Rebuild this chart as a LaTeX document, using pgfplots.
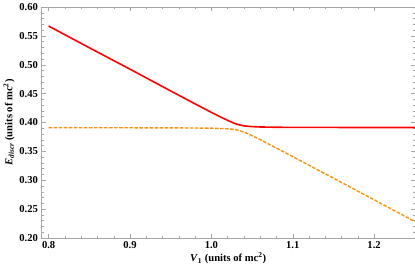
\documentclass[border=0pt]{standalone}
\usepackage{pgfplots}
\pgfplotsset{compat=1.18}
\usepackage{fontspec}
\setmainfont{Liberation Serif}
\definecolor{myred}{RGB}{250,5,5}
\definecolor{myorange}{RGB}{255,145,15}
\begin{document}
\begin{tikzpicture}
\begin{axis}[
  scale only axis,
  width=370pt, height=229pt,
  xmin=0.7913, xmax=1.25,
  ymin=0.2, ymax=0.6,
  xtick={0.8,0.9,1.0,1.1,1.2},
  xticklabels={0.8,0.9,1.0,1.1,1.2},
  ytick={0.20,0.25,0.30,0.35,0.40,0.45,0.50,0.55,0.60},
  yticklabels={0.20,0.25,0.30,0.35,0.40,0.45,0.50,0.55,0.60},
  minor x tick num=4,
  minor y tick num=4,
  tick align=inside,
  major tick length=4pt,
  minor tick length=2pt,
  axis line style={gray!70},
  tick style={gray!70, line width=0.4pt},
  ticklabel style={font=\fontsize{10.5}{12}\selectfont\bfseries},
  xlabel={\textbf{\textit{V}\textsubscript{1} (units of mc\textsuperscript{2})}},
  ylabel={\textbf{\textit{E}\textsubscript{\textit{discr}} (units of mc\textsuperscript{2})}},
  label style={font=\fontsize{10.5}{12}\selectfont\bfseries},
  xlabel style={yshift=3pt},
  ylabel style={yshift=-2pt},
  clip=true,
]
\addplot[myred, line width=1.6pt] coordinates {
(0.80,0.5670) (0.85,0.5294) (0.90,0.4923) (0.95,0.4546) (0.98,0.4322)
(1.00,0.4175) (1.01,0.4104) (1.02,0.4036) (1.025,0.4005) (1.03,0.3977)
(1.034,0.3960) (1.04,0.3942) (1.045,0.3934) (1.05,0.3928) (1.06,0.3922)
(1.08,0.3917) (1.10,0.3915) (1.15,0.3914) (1.20,0.3913) (1.25,0.3913)
};
\addplot[myorange, line width=1.4pt, dash pattern=on 3.5pt off 1.5pt] coordinates {
(0.80,0.3910) (0.85,0.3909) (0.90,0.3908) (0.95,0.3906) (0.98,0.3904)
(1.00,0.3901) (1.01,0.3897) (1.02,0.3890) (1.025,0.3884) (1.03,0.3873)
(1.034,0.3860) (1.04,0.3833) (1.045,0.3804) (1.05,0.3772) (1.06,0.3703)
(1.08,0.3557) (1.10,0.3409) (1.15,0.3036) (1.20,0.2661) (1.25,0.2285)
};
\end{axis}
\end{tikzpicture}
\end{document}
